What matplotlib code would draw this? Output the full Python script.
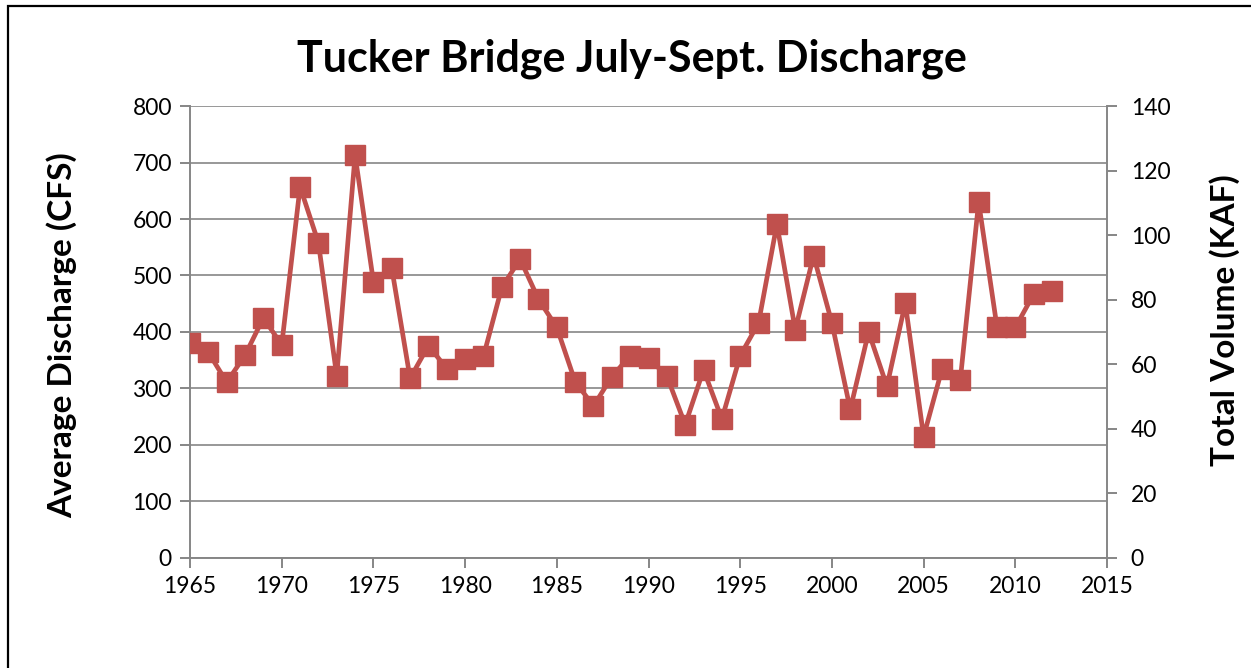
import matplotlib.pyplot as plt
from matplotlib.patches import Rectangle

plt.rcParams['font.family'] = ['Lato', 'DejaVu Sans']

# July-September average discharge at Tucker Bridge
years = list(range(1965, 2013))
discharge = [381, 364, 311, 359, 425, 377, 657, 558, 322, 713,
             489, 513, 318, 376, 335, 352, 357, 479, 529, 458,
             408, 312, 269, 321, 358, 354, 322, 236, 333, 246,
             358, 416, 591, 404, 535, 416, 263, 400, 304, 451,
             215, 334, 315, 630, 409, 408, 467, 472]

x_ticks = [1965, 1970, 1975, 1980, 1985, 1990, 1995, 2000, 2005, 2010, 2015]
left_ticks = [0, 100, 200, 300, 400, 500, 600, 700, 800]
right_ticks = [0, 20, 40, 60, 80, 100, 120, 140]

red = '#C0504D'
grey = '#868686'

fig = plt.figure(figsize=(12.51, 6.68), dpi=100)
ax = fig.add_axes([0.1519, 0.1647, 0.7330, 0.6766])

ax.plot(years, discharge, color=red, lw=3.4, marker='s', ms=14.5,
        markerfacecolor=red, markeredgecolor=red, zorder=3)

ax.set_xlim(1965, 2015)
ax.set_ylim(0, 800)
ax.set_xticks(x_ticks)
ax.set_yticks(left_ticks)
ax.grid(axis='y', color=grey, lw=1.2)
ax.set_axisbelow(True)

for side in ['top', 'right']:
    ax.spines[side].set_visible(False)
for side in ['left', 'bottom']:
    ax.spines[side].set_color(grey)
    ax.spines[side].set_linewidth(1.4)
ax.tick_params(direction='out', length=7, width=1.4, color=grey,
               labelsize=16.5, pad=6)

ax2 = ax.twinx()
ax2.set_ylim(0, 140)
ax2.set_yticks(right_ticks)
for side in ['top', 'left', 'bottom']:
    ax2.spines[side].set_visible(False)
ax2.spines['right'].set_color(grey)
ax2.spines['right'].set_linewidth(1.4)
ax2.tick_params(direction='out', length=7, width=1.4, color=grey,
                labelsize=16.5, pad=10)

# axis titles
fig.text(62 / 1251, 1 - 335 / 668, 'Average Discharge (CFS)', rotation=90,
         ha='center', va='center', fontsize=24, fontweight='bold')
fig.text(1225 / 1251, 1 - 320 / 668, 'Total Volume (KAF)', rotation=90,
         ha='center', va='center', fontsize=24, fontweight='bold')

fig.text(0.505, 1 - 59 / 668, 'Tucker Bridge July-Sept. Discharge', ha='center', va='center',
         fontsize=31, fontweight='bold')

# chart border
fig.patches.append(Rectangle((8 / 1251, -0.1), 1.2, 1.1 - 6 / 668, transform=fig.transFigure,
                             fill=False, edgecolor='black', lw=1.6))

fig.savefig('out.png', dpi=100)
